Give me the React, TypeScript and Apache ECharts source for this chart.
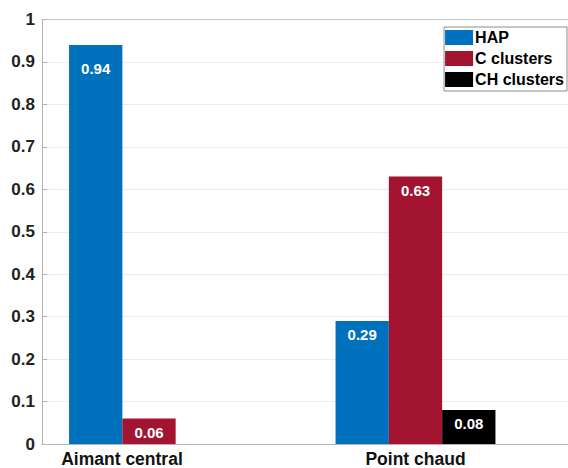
import React, { useEffect, useRef } from "react";
import * as echarts from "echarts";

const categories = ["Aimant central", "Point chaud"];
const seriesNames = ["HAP", "C clusters", "CH clusters"];
const hapValues = [0.94, 0.29];
const cValues = [0.06, 0.63];
const chValues = [0, 0.08];
const colors = ["#0072BD", "#A2142F", "#000000"];

const FONT = "'Liberation Sans', Arial, Helvetica, sans-serif";

export default function App() {
  const ref = useRef<HTMLDivElement>(null);
  useEffect(() => {
    if (!ref.current) return;
    const chart = echarts.init(ref.current, null, { renderer: "svg" });
    const allValues = [hapValues, cValues, chValues];
    const mkSeries = (i: number) => ({
      name: seriesNames[i],
      type: "bar",
      xAxisIndex: 1,
      yAxisIndex: 1,
      barWidth: 53.3,
      barGap: "0%",
      itemStyle: { color: colors[i] },
      label: {
        show: true,
        position: "insideTop",
        distance: 6,
        color: "#ffffff",
        fontFamily: FONT,
        fontWeight: "bold",
        fontSize: 15,
        formatter: (p: any) => (p.value === 0 ? "" : String(p.value)),
      },
      data: allValues[i].map((v, j) =>
        i === 0 && j === 0 ? { value: v, label: { distance: 16 } } : v
      ),
    });
    chart.setOption({
      animation: false,
      backgroundColor: "#ffffff",
      grid: [
        { left: 42, right: 0, top: 19.5, bottom: 24, containLabel: false, outerBoundsMode: "none" },
        { left: 15.75, width: 533, top: 19.5, bottom: 24, containLabel: false, outerBoundsMode: "none" },
      ],
      legend: {
        data: seriesNames.map((n) => ({ name: n, icon: "rect" })),
        orient: "vertical",
        right: 1,
        top: 27,
        itemWidth: 28,
        itemHeight: 15,
        itemGap: 4,
        padding: [2, 3, 3, 1],
        backgroundColor: "#ffffff",
        borderColor: "#8c8c8c",
        borderWidth: 1,
        borderRadius: 0,
        textStyle: {
          fontFamily: FONT,
          fontWeight: "bold",
          fontSize: 16,
          color: "#000000",
          lineHeight: 17,
          padding: [0, 0, 0, -3],
        },
        itemStyle: { borderWidth: 0 },
      },
      xAxis: [
        {
          gridIndex: 0,
          type: "value",
          min: 0,
          max: 1,
          axisLine: { show: true, onZero: false, lineStyle: { color: "#b3b3b3", width: 1 } },
          axisTick: { show: false },
          axisLabel: { show: false },
          splitLine: { show: false },
        },
        {
          gridIndex: 1,
          type: "category",
          data: categories,
          axisLine: { show: false },
          axisTick: { show: false },
          splitLine: { show: false },
          axisLabel: {
            margin: 6,
            formatter: (v: string, idx: number) => (idx === 0 ? "{a|" + v + "}" : "{b|" + v + "}"),
            rich: {
              a: {
                fontFamily: FONT,
                fontWeight: "bold",
                fontSize: 17.5,
                lineHeight: 17,
                color: "#111111",
                padding: [0, 54, 0, 0],
              },
              b: {
                fontFamily: FONT,
                fontWeight: "bold",
                fontSize: 17.5,
                lineHeight: 17,
                color: "#111111",
              },
            },
          },
        },
        {
          gridIndex: 0,
          type: "value",
          position: "top",
          min: 0,
          max: 1,
          axisLine: { show: true, onZero: false, lineStyle: { color: "#c4c4c4", width: 1 } },
          axisTick: { show: false },
          axisLabel: { show: false },
          splitLine: { show: false },
        },
      ],
      yAxis: [
        {
          gridIndex: 0,
          type: "value",
          min: 0,
          max: 1,
          interval: 0.1,
          axisLine: { show: true, lineStyle: { color: "#b3b3b3", width: 1 } },
          axisTick: { show: true, inside: true, length: 5, lineStyle: { color: "#b3b3b3" } },
          splitLine: { show: true, lineStyle: { color: "#ebebeb", width: 1 } },
          axisLabel: {
            margin: 7,
            fontFamily: FONT,
            fontWeight: "bold",
            fontSize: 17,
            color: "#222222",
            formatter: (v: number) => String(Math.round(v * 10) / 10),
          },
        },
        {
          gridIndex: 1,
          type: "value",
          min: 0,
          max: 1,
          show: false,
        },
      ],
      series: [0, 1, 2].map(mkSeries),
    });
    return () => chart.dispose();
  }, []);
  return (
    <div
      ref={ref}
      style={{ position: "fixed", left: 0, top: 0, width: 568, height: 468 }}
    />
  );
}
